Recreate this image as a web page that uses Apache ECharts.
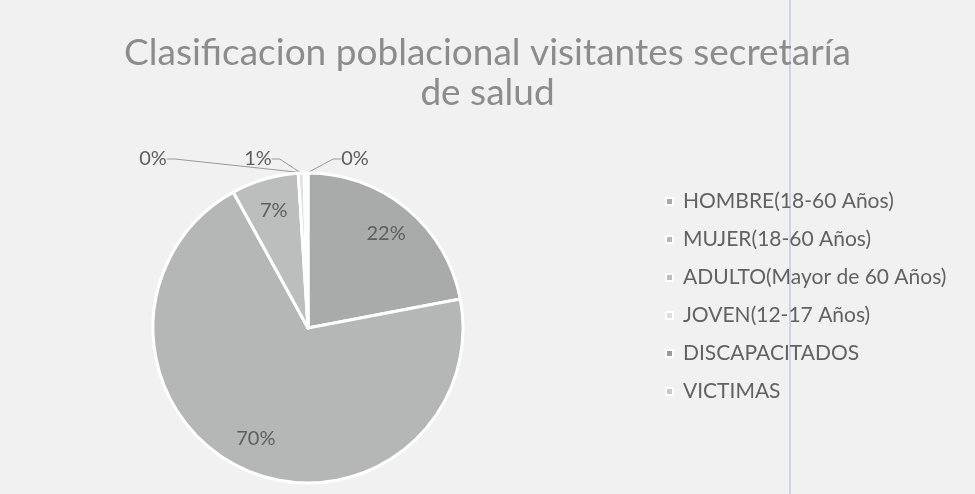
<!DOCTYPE html>
<html>
<head>
<meta charset="utf-8">
<script src="https://cdn.jsdelivr.net/npm/echarts@6/dist/echarts.min.js"></script>
<style>
html,body{margin:0;padding:0;background:#f1f1f1;}
#chart{width:975px;height:494px;}
</style>
</head>
<body>
<div id="chart"></div>
<script>
// datos (porcentaje)
var categorias = ['HOMBRE(18-60 Años)', 'MUJER(18-60 Años)', 'ADULTO(Mayor de 60 Años)', 'JOVEN(12-17 Años)', 'DISCAPACITADOS', 'VICTIMAS'];
var valores = [22, 70, 7, 0.6, 0.2, 0.2];
var colores = ['#a9aaaa', '#b5b6b6', '#bcbdbd', '#dedede', '#9a9a9a', '#c8c8c8'];

var titulo = 'Clasificacion poblacional visitantes secretaría\nde salud';
var fuente = 'Lato, "Open Sans", sans-serif';

var myChart = echarts.init(document.getElementById('chart'));

var datos = [];
var datosEtiqueta = [];
for (var i = 0; i < categorias.length; i++) {
	var pequena = i >= 3;
	datos.push({
		name: categorias[i],
		value: valores[i],
		itemStyle: { color: colores[i] },
		label: { show: pequena },
		labelLine: { show: pequena }
	});
	datosEtiqueta.push({ name: categorias[i], value: valores[i], label: { show: !pequena } });
}

// posiciones de las etiquetas pequenas (arriba del pastel)
var posPequenas = { 3: [258, 159], 4: [153, 159], 5: [355, 159] };

var option = {
	backgroundColor: '#f1f1f1',
	animation: false,
	title: {
		text: titulo,
		left: 'center',
		top: 28,
		textStyle: {
			fontFamily: fuente,
			fontSize: 37,
			fontWeight: 'normal',
			color: '#8c8c8c',
			lineHeight: 40
		}
	},
	legend: {
		orient: 'vertical',
		left: 660,
		top: 186,
		itemWidth: 7,
		itemHeight: 7,
		itemGap: 17,
		icon: 'rect',
		data: categorias,
		textStyle: { fontFamily: fuente, fontSize: 21, color: '#626262', padding: [0, 0, 0, 5] }
	},
	graphic: [{
		type: 'line',
		shape: { x1: 790, y1: 0, x2: 790, y2: 494 },
		style: { stroke: '#a8b6d4', lineWidth: 1 },
		silent: true
	}],
	series: [
		{
			name: 'poblacion',
			type: 'pie',
			center: [308, 328],
			radius: 155,
			startAngle: 90,
			clockwise: true,
			avoidLabelOverlap: false,
			percentPrecision: 0,
			itemStyle: { borderColor: '#ffffff', borderWidth: 3 },
			data: datos,
			label: {
				position: 'outside',
				formatter: '{d}%',
				fontFamily: fuente,
				fontSize: 20,
				color: '#5e5e5e'
			},
			labelLine: {
				length: 8,
				length2: 8,
				lineStyle: { color: '#9a9a9a', width: 1 }
			},
			labelLayout: function (p) {
				var pos = posPequenas[p.dataIndex];
				if (pos) {
					return { x: pos[0], y: pos[1], align: 'center', verticalAlign: 'middle' };
				}
				return {};
			}
		},
		{
			name: 'etiquetas',
			type: 'pie',
			center: [308, 328],
			radius: [84, 155],
			startAngle: 90,
			clockwise: true,
			silent: true,
			percentPrecision: 0,
			legendHoverLink: false,
			itemStyle: { color: 'rgba(0,0,0,0)', borderWidth: 0 },
			data: datosEtiqueta,
			label: {
				position: 'inside',
				formatter: '{d}%',
				fontFamily: fuente,
				fontSize: 20,
				color: '#5e5e5e'
			},
			labelLine: { show: false }
		}
	]
};

myChart.setOption(option);
</script>
</body>
</html>
